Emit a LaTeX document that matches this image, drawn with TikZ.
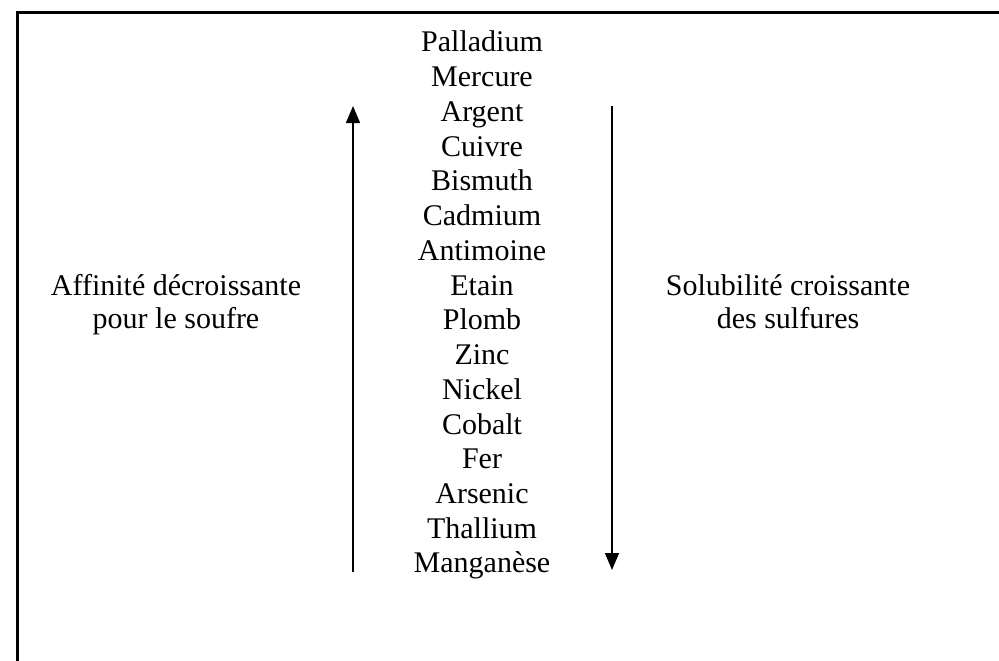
\documentclass[tikz,border=0pt]{standalone}
\usepackage{fontspec}
\setmainfont{Liberation Serif}
\usetikzlibrary{arrows.meta}
\begin{document}
\begin{tikzpicture}[x=1pt,y=-1pt,
  txt/.style={anchor=base, inner sep=0pt, font=\fontsize{30}{34}\selectfont},
  arr/.style={line width=1.4pt, -{Triangle[length=17pt,width=14pt]}},
  frame/.style={line width=3pt}]
\useasboundingbox (0,0) rectangle (999,661);
\coordinate (f1) at (17,661);
\coordinate (f2) at (17,13);
\coordinate (f3) at (999,13);
\draw[frame] (f1) -- (f2) -- (f3);
\foreach \name [count=\i] in {Palladium,Mercure,Argent,Cuivre,Bismuth,Cadmium,Antimoine,Etain,Plomb,Zinc,Nickel,Cobalt,Fer,Arsenic,Thallium,Mangan\`ese}
  \node[txt] (m\i) at (482,{52+(\i-1)*34.73}) {\name};
\node[txt] (la1) at (176,295) {Affinité décroissante};
\node[txt] (la2) at (176,328) {pour le soufre};
\node[txt] (lb1) at (788,295) {Solubilité croissante};
\node[txt] (lb2) at (788,328) {des sulfures};
\coordinate (ub) at (353,572);
\coordinate (ut) at (353,106);
\draw[arr] (ub) -- (ut);
\coordinate (dt) at (612,106);
\coordinate (db) at (612,570);
\draw[arr] (dt) -- (db);
\end{tikzpicture}
\end{document}
